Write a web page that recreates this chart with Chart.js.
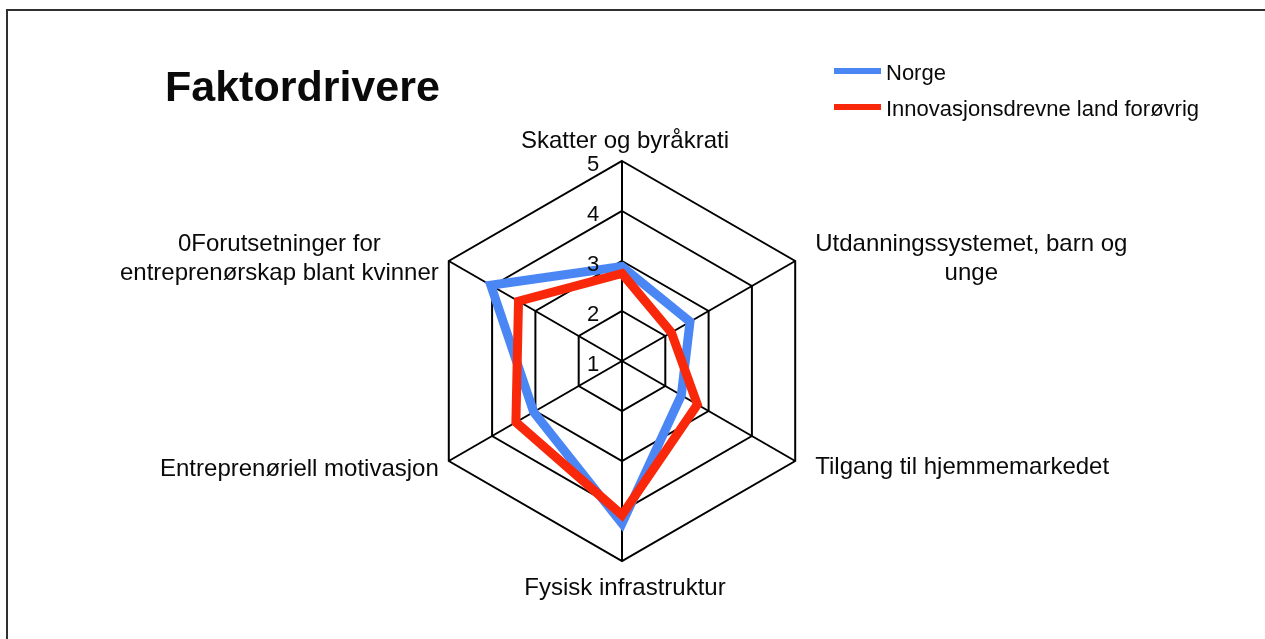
<!DOCTYPE html>
<html>
<head>
<meta charset="utf-8">
<script src="https://cdn.jsdelivr.net/npm/chart.js@4.4.1/dist/chart.umd.min.js"></script>
<style>
  html, body { margin: 0; padding: 0; background: #fff; }
  #wrap { position: relative; width: 1265px; height: 639px; overflow: hidden; }
  #frame { position: absolute; left: 6px; top: 9px; width: 1300px; height: 700px;
           border-left: 2px solid #303030; border-top: 2px solid #303030; pointer-events: none; }
</style>
</head>
<body>
<div id="wrap">
  <canvas id="radar"></canvas>
  <div id="frame"></div>
</div>
<script>
// Chart content
const chartTitle = 'Faktordrivere';
const categories = [
  'Skatter og byråkrati',
  ['Utdanningssystemet, barn og', 'unge'],
  'Tilgang til hjemmemarkedet',
  'Fysisk infrastruktur',
  'Entreprenøriell motivasjon',
  ['0Forutsetninger for', 'entreprenørskap blant kvinner']
];
const seriesNames = ['Norge', 'Innovasjonsdrevne land forøvrig'];
const norge = [2.89, 2.57, 2.37, 4.25, 3.04, 4.03];
const innovasjonsdrevne = [2.75, 2.14, 2.74, 4.08, 3.45, 3.39];
const tickValues = [1, 2, 3, 4, 5];

const FONT = '"Liberation Sans", Arial, Helvetica, sans-serif';
const TEXT = '#0a0a0a';

// Draws tick numbers, axis names, title and legend on top of the radar
const decorations = {
  id: 'decorations',
  afterDraw(chart) {
    const ctx = chart.ctx;
    const r = chart.scales.r;
    ctx.save();
    ctx.fillStyle = TEXT;

    // tick numbers, left of the vertical axis
    ctx.font = '22px ' + FONT;
    ctx.textAlign = 'center';
    ctx.textBaseline = 'middle';
    tickValues.forEach(v => {
      const d = r.getDistanceFromCenterForValue(v);
      ctx.fillText(String(v), r.xCenter - 29, r.yCenter - d + 4);
    });

    // axis names, multi-line blocks centred on themselves
    ctx.font = '24px ' + FONT;
    const lh = 28.5;
    chart.data.labels.forEach((label, i) => {
      const p = r.getPointPosition(i, r.drawingArea);
      const lines = Array.isArray(label) ? label : [label];
      const blockW = Math.max(...lines.map(l => ctx.measureText(l).width));
      const dx = p.x - r.xCenter;
      const upper = p.y < r.yCenter;
      let cx, cy;
      if (Math.abs(dx) < 1) {
        cx = p.x + 3;
        cy = p.y + (upper ? -20 : 27);
      } else if (dx > 0) {
        cx = p.x + 20 + blockW / 2;
        cy = p.y + (upper ? -2 : 6);
      } else {
        cx = p.x - 10 - blockW / 2;
        cy = p.y + (upper ? -2 : 8);
      }
      const y0 = cy - (lines.length - 1) * lh / 2;
      lines.forEach((l, k) => ctx.fillText(l, cx, y0 + k * lh));
    });

    // title
    ctx.font = 'bold 43px ' + FONT;
    ctx.textAlign = 'left';
    ctx.textBaseline = 'alphabetic';
    ctx.fillText(chartTitle, 165, 101);

    // legend
    ctx.font = '22px ' + FONT;
    chart.data.datasets.forEach((ds, k) => {
      const y = 71 + k * 36;
      ctx.strokeStyle = ds.borderColor;
      ctx.lineWidth = 6;
      ctx.beginPath();
      ctx.moveTo(834, y);
      ctx.lineTo(881, y);
      ctx.stroke();
      ctx.fillStyle = TEXT;
      ctx.fillText(ds.label, 886, y + 8.5);
    });
    ctx.restore();
  }
};

new Chart(document.getElementById('radar'), {
  type: 'radar',
  data: {
    labels: categories,
    datasets: [
      { label: seriesNames[0], data: norge, borderColor: '#4a87f5', order: 2 },
      { label: seriesNames[1], data: innovasjonsdrevne, borderColor: '#fa280a', order: 1 }
    ]
  },
  options: {
    responsive: true,
    maintainAspectRatio: false,
    animation: false,
    layout: { padding: { left: 422, right: 443, top: 161, bottom: 78 } },
    plugins: {
      legend: { display: false },
      title: { display: false },
      tooltip: { enabled: false }
    },
    elements: {
      point: { radius: 0, hoverRadius: 0 },
      line: { tension: 0, borderWidth: 9, borderJoinStyle: 'miter', fill: false, backgroundColor: 'rgba(0,0,0,0)' }
    },
    scales: {
      r: {
        min: 1,
        max: 5,
        ticks: { display: false, stepSize: 1 },
        pointLabels: { display: false },
        grid: { color: '#000', lineWidth: 2 },
        angleLines: { color: '#000', lineWidth: 2 }
      }
    }
  },
  plugins: [decorations]
});
</script>
</body>
</html>
